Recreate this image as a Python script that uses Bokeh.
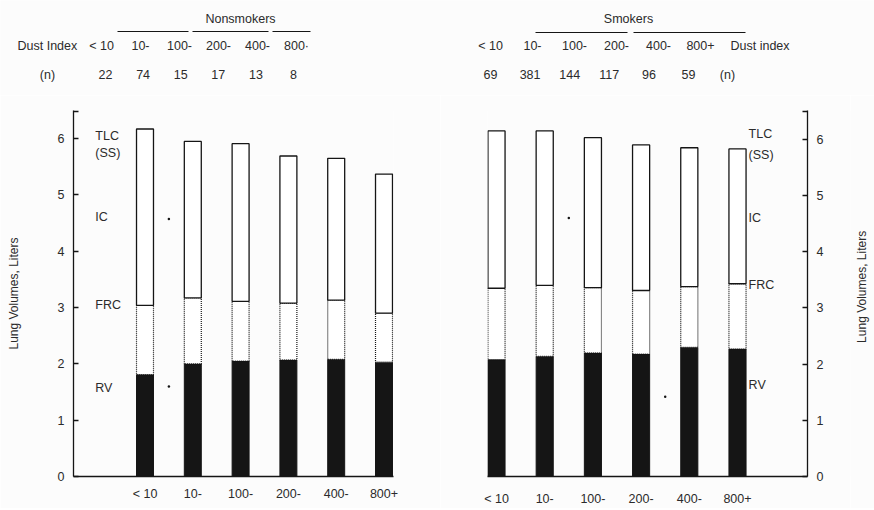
import math
from bokeh.plotting import figure
from bokeh.layouts import column, row
from bokeh.models import Range1d, FixedTicker, ColumnDataSource
from bokeh.embed import file_html
from bokeh.resources import INLINE
from bokeh.core.properties import value

# ---------------- data ----------------
dust_ns = ["< 10", "10-", "100-", "200-", "400-", "800\u00b7"]
dust_s = ["< 10", "10-", "100-", "200-", "400-", "800+"]
axis_cats = ["< 10", "10-", "100-", "200-", "400-", "800+"]
n_ns = ["22", "74", "15", "17", "13", "8"]
n_s = ["69", "381", "144", "117", "96", "59"]

tlc_ns = [6.17, 5.95, 5.91, 5.69, 5.65, 5.37]
frc_ns = [3.04, 3.17, 3.11, 3.08, 3.13, 2.90]
rv_ns = [1.81, 2.00, 2.05, 2.07, 2.08, 2.03]

tlc_s = [6.15, 6.15, 6.03, 5.90, 5.85, 5.83]
frc_s = [3.35, 3.40, 3.36, 3.31, 3.38, 3.43]
rv_s = [2.08, 2.14, 2.20, 2.18, 2.30, 2.27]

vol_labels = ["TLC", "(SS)", "IC", "FRC", "RV"]
vol_label_y_ns = [6.05, 5.75, 4.60, 3.05, 1.57]
vol_label_y_s = [6.10, 5.72, 4.60, 3.40, 1.62]
y_ticks = [0, 1, 2, 3, 4, 5, 6]
y_title = "Lung Volumes, Liters"

FONT = "Liberation Sans"
TXT = "#2b2b2b"
INK = "#151515"
BG = "#fcfcfc"

TOTAL_W, TOTAL_H, HDR_H = 874, 508, 95
PANEL_H = TOTAL_H - HDR_H
SIDE_W = 24


def panel(width, xr, ytop, mbl, mbr, mbb, side, tlc, frc, rv, lab_x, lab_y, dots,
          x_standoff, ylab_standoff):
    p = figure(width=width, height=PANEL_H, x_range=Range1d(*xr), y_range=Range1d(0, ytop),
               output_backend="svg", toolbar_location=None,
               min_border_left=mbl, min_border_right=mbr, min_border_top=110 - HDR_H,
               min_border_bottom=mbb, y_axis_location=side,
               background_fill_color=BG, border_fill_color=BG)
    p.outline_line_color = None
    p.grid.visible = False
    idx = list(range(len(tlc)))
    src = ColumnDataSource(dict(x=idx, tlc=tlc, frc=frc, rv=rv, zero=[0] * len(idx)))
    bw = 0.355
    p.vbar(x="x", width=bw, bottom="zero", top="rv", source=src,
           fill_color=INK, line_color=INK, line_width=1)
    p.vbar(x="x", width=bw, bottom="rv", top="frc", source=src,
           fill_color="white", line_color=INK, line_width=1.2, line_dash="1 1")
    p.vbar(x="x", width=bw, bottom="frc", top="tlc", source=src,
           fill_color="white", line_color=INK, line_width=1.3)
    p.text(x=[lab_x] * len(vol_labels), y=lab_y, text=vol_labels,
           text_font=value(FONT), text_font_size="12.5px", text_color=TXT,
           text_align="left", text_baseline="middle")
    p.scatter(x=[d[0] for d in dots], y=[d[1] for d in dots], size=2.5,
              color=INK, line_color=None)

    xa = p.xaxis[0]
    xa.ticker = FixedTicker(ticks=idx)
    xa.major_label_overrides = {i: axis_cats[i] for i in idx}
    xa.major_tick_in = 0
    xa.major_tick_out = 0
    xa.axis_line_width = 1.6
    xa.axis_line_color = INK
    xa.major_label_text_font = FONT
    xa.major_label_text_font_size = "12.5px"
    xa.major_label_text_color = TXT
    xa.major_label_standoff = x_standoff

    ya = p.yaxis[0]
    ya.ticker = FixedTicker(ticks=y_ticks + [ytop - 0.01])
    overrides = {t: str(t) for t in y_ticks}
    overrides[ytop - 0.01] = ""
    ya.major_label_overrides = overrides
    ya.major_tick_in = 5
    ya.major_tick_out = 0
    ya.minor_tick_in = 0
    ya.minor_tick_out = 0
    ya.axis_line_width = 1.3
    ya.axis_line_color = INK
    ya.major_tick_line_color = INK
    ya.major_tick_line_width = 1.3
    ya.major_label_text_font = FONT
    ya.major_label_text_font_size = "12.5px"
    ya.major_label_text_color = TXT
    ya.major_label_standoff = 9
    if side == "left":
        ya.axis_label = y_title
        ya.axis_label_text_font = FONT
        ya.axis_label_text_font_size = "12px"
        ya.axis_label_text_font_style = "normal"
        ya.axis_label_text_color = TXT
        ya.axis_label_standoff = ylab_standoff
    return p


# left panel: frame page x 73..393, y 110..483
sp_l = 47.8
left = panel(440, (-71.5 / sp_l, -71.5 / sp_l + 320 / sp_l), 373 / 57.4, 73, 47, TOTAL_H - 483,
             "left", tlc_ns, frc_ns, rv_ns, -1.04, vol_label_y_ns,
             [(0.5, 4.57), (0.5, 1.60)], 10, 34)
# right panel: frame page x 487..807, y 110..478
sp_r = 48.2
right_w = TOTAL_W - 440 - SIDE_W
right = panel(right_w, (-9 / sp_r, -9 / sp_r + 320 / sp_r), 368 / 56.5, 47,
              (440 + right_w) - 807, TOTAL_H - 478,
              "right", tlc_s, frc_s, rv_s, 5.23, vol_label_y_s,
              [(1.5, 4.60), (3.5, 1.42)], 15, 34)

# right-hand axis title, reading bottom-to-top, centred on the right frame
side = figure(width=SIDE_W, height=PANEL_H, x_range=Range1d(0, SIDE_W),
              y_range=Range1d(PANEL_H, 0), output_backend="svg", toolbar_location=None,
              min_border_left=0, min_border_right=0, min_border_top=0, min_border_bottom=0,
              background_fill_color=BG, border_fill_color=BG)
side.axis.visible = False
side.grid.visible = False
side.outline_line_color = None
side.text(x=[SIDE_W / 2 - 1], y=[(110 + 478) / 2 - HDR_H], text=[y_title], angle=math.pi / 2,
          text_font=value(FONT), text_font_size="12px", text_color=TXT,
          text_align="center", text_baseline="middle")

# header (page coordinates)
hdr = figure(width=TOTAL_W, height=HDR_H, x_range=Range1d(0, TOTAL_W), y_range=Range1d(HDR_H, 0),
             output_backend="svg", toolbar_location=None,
             min_border_left=0, min_border_right=0, min_border_top=0, min_border_bottom=0,
             background_fill_color=BG, border_fill_color=BG)
hdr.axis.visible = False
hdr.grid.visible = False
hdr.outline_line_color = None

ROW_T, ROW_D, ROW_N = 18, 45, 74


def htext(xs, ys, texts, align="center"):
    hdr.text(x=xs, y=ys, text=texts, text_font=value(FONT), text_font_size="12.5px",
             text_color=TXT, text_align=align, text_baseline="middle")


k = range(6)
htext([240], [ROW_T], ["Nonsmokers"])
htext([17], [ROW_D], ["Dust Index"], "left")
htext([101 + 39 * i for i in k], [ROW_D] * 6, dust_ns)
htext([47], [ROW_N], ["(n)"])
htext([105 + 37.6 * i for i in k], [ROW_N] * 6, n_ns)
hdr.segment(x0=[117, 192, 272], y0=[31, 31, 31], x1=[188, 268, 310], y1=[31, 31, 31],
            line_color=INK, line_width=1.2)

htext([628], [ROW_T], ["Smokers"])
htext([490 + 42 * i for i in k], [ROW_D] * 6, dust_s)
htext([730], [ROW_D], ["Dust index"], "left")
htext([490 + 39.6 * i for i in k], [ROW_N] * 6, n_s)
htext([727], [ROW_N], ["(n)"])
hdr.segment(x0=[535, 633], y0=[32, 32], x1=[627, 745], y1=[32, 32], line_color=INK, line_width=1.2)

layout = column(hdr, row(left, right, side, spacing=0), spacing=0)
open("out.html", "w").write(file_html(layout, INLINE))
